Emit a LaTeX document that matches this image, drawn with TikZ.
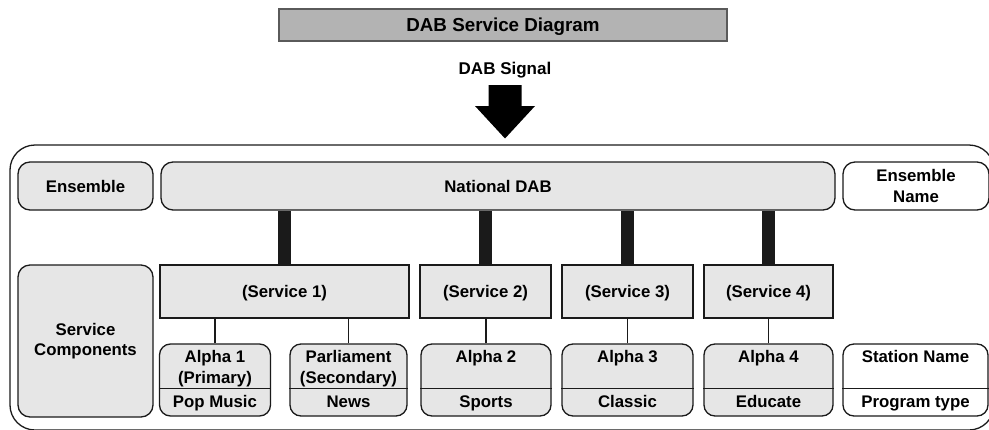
\documentclass[tikz,border=0pt]{standalone}
\usepackage{fontspec}
\setmainfont{Liberation Sans}
\usetikzlibrary{positioning}
\definecolor{boxgray}{HTML}{E6E6E6}
\definecolor{titlegray}{HTML}{B3B3B3}
\definecolor{titleedge}{HTML}{5A5A5A}
\definecolor{inkline}{HTML}{1A1A1A}
\tikzset{
  bodyfont/.style={font=\bfseries\fontsize{16.8}{20.5}\selectfont},
  rbox/.style={draw=inkline, line width=1.3pt, fill=boxgray, rounded corners=12pt, bodyfont, align=center},
  sbox/.style={draw=inkline, line width=1.3pt, fill=boxgray, bodyfont, text depth=0pt, minimum height=53pt},
  cbox/.style={draw=inkline, line width=1.3pt, fill=boxgray, rounded corners=11pt, minimum height=72pt},
  bar/.style={line width=13pt, inkline},
  stem/.style={line width=1.5pt, inkline},
  toptext/.style={bodyfont, align=center, anchor=north, inner sep=0pt},
  bottext/.style={bodyfont, anchor=base, inner sep=0pt},
}
\begin{document}
\begin{tikzpicture}[x=1pt,y=-1pt]
\useasboundingbox (0,0) rectangle (989,429);

% heading and incoming signal
\node[draw=titleedge, line width=2pt, fill=titlegray, minimum width=448pt, minimum height=32pt,
  text depth=0pt, font=\bfseries\fontsize{18.8}{22}\selectfont] (title) at (503,25) {DAB Service Diagram};
\node[font=\bfseries\fontsize{17}{20}\selectfont, anchor=base, inner sep=0pt] (signal) at (505,74) {DAB Signal};
\fill[black] (488.5,85) -- (521.5,85) -- (521.5,106) -- (535,106) -- (505,138.5)
  -- (475,106) -- (488.5,106) -- cycle;

% outer frame
\draw[line width=1.3pt, inkline, rounded corners=25pt] (10,145) rectangle (994,430);

% ensemble row
\node[rbox, minimum width=135pt, minimum height=48pt] (ens) at (85.5,186) {Ensemble};
\node[rbox, minimum width=674pt, minimum height=48pt] (dab) at (498,186) {National DAB};
\node[rbox, fill=white, minimum width=146pt, minimum height=48pt] (ensname) at (916,186) {Ensemble\\Name};

% services
\node[rbox, minimum width=135pt, minimum height=152pt] (svc) at (85.5,341) {Service\\Components};
\node[sbox, minimum width=249pt] (s1) at (284.5,291.5) {(Service 1)};
\node[sbox, minimum width=131pt] (s2) at (485.5,291.5) {(Service 2)};
\node[sbox, minimum width=131pt] (s3) at (627.5,291.5) {(Service 3)};
\node[sbox, minimum width=129pt] (s4) at (768.5,291.5) {(Service 4)};
\foreach \s in {s1,s2,s3,s4}
  \draw[bar] (\s.north) -- (\s.north |- dab.south);

% service components
\coordinate (divy) at (0,388.5);
\foreach \id/\cx/\cw/\cf/\ttop/\tbot in {
    a1/215/111/boxgray/{Alpha 1\\(Primary)}/{Pop Music},
    p1/348.5/117/boxgray/{Parliament\\(Secondary)}/{News},
    a2/486/130/boxgray/{Alpha 2}/{Sports},
    a3/627.5/131/boxgray/{Alpha 3}/{Classic},
    a4/768.5/129/boxgray/{Alpha 4}/{Educate},
    st/915.5/145/white/{Station Name}/{Program type}} {
  \node[cbox, fill=\cf, minimum width=\cw pt] (\id) at (\cx,380) {};
  \draw[line width=1.3pt, inkline] (\id.west |- divy) -- (\id.east |- divy);
  \node[toptext] (\id-top) at (\cx,350.5) {\ttop};
  \node[bottext] (\id-bot) at (\cx,407.7) {\tbot};
}
\draw[stem] (a1.north) -- (a1.north |- s1.south);
\draw[stem] (p1.north) -- (p1.north |- s1.south);
\draw[stem] (a2.north) -- (a2.north |- s2.south);
\draw[stem] (a3.north) -- (a3.north |- s3.south);
\draw[stem] (a4.north) -- (a4.north |- s4.south);
\end{tikzpicture}
\end{document}
